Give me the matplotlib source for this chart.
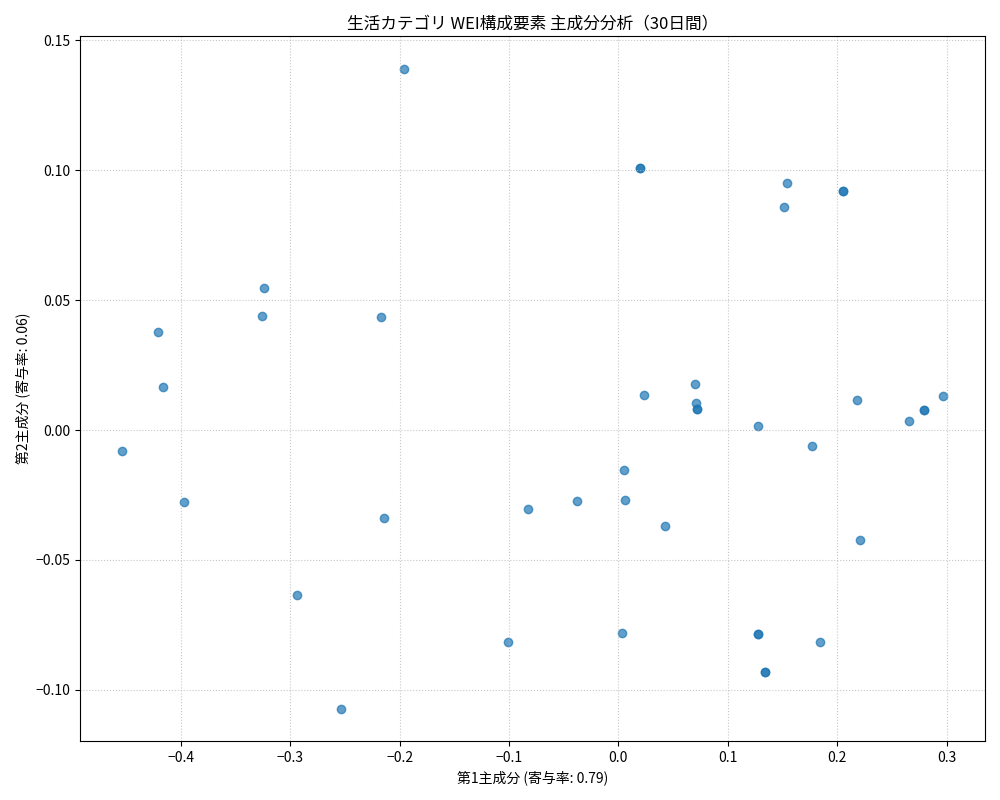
import matplotlib
matplotlib.use("Agg")
import matplotlib.pyplot as plt

plt.rcParams['font.family'] = ['Noto Sans CJK JP', 'DejaVu Sans']
plt.rcParams['axes.unicode_minus'] = True

# principal component scores (duplicated days drawn twice)
pc1 = [-0.196, 0.020, 0.020, 0.154, 0.205, 0.205, 0.151, -0.324, -0.326, -0.217,
       -0.421, -0.416, 0.070, 0.023, 0.071, 0.072, 0.072, 0.218, 0.297, 0.279,
       0.279, 0.266, 0.128, 0.177, -0.454, 0.005, 0.006, -0.038, -0.397, -0.083,
       -0.214, 0.043, 0.221, -0.294, 0.003, 0.128, 0.128, -0.101, 0.184, 0.134,
       0.134, -0.254]
pc2 = [0.139, 0.101, 0.101, 0.095, 0.092, 0.092, 0.086, 0.0546, 0.0438, 0.0435,
       0.0377, 0.0165, 0.0177, 0.0135, 0.0104, 0.0081, 0.0081, 0.0115, 0.0131, 0.0077,
       0.0077, 0.0035, 0.0015, -0.0062, -0.0081, -0.0154, -0.0269, -0.0273, -0.0277, -0.0304,
       -0.0338, -0.0369, -0.0423, -0.0635, -0.0781, -0.0785, -0.0785, -0.0815, -0.0815, -0.0931,
       -0.0931, -0.1073]

fig, ax = plt.subplots(figsize=(10, 8), dpi=100)
ax.scatter(pc1, pc2, alpha=0.7, color='tab:blue')
ax.set_xlim(-0.492, 0.335)
ax.set_ylim(-0.1196, 0.1515)
ax.grid(True, linestyle=':', alpha=0.7)
ax.set_title('生活カテゴリ WEI構成要素 主成分分析（30日間）')
ax.set_xlabel('第1主成分 (寄与率: 0.79)')
ax.set_ylabel('第2主成分 (寄与率: 0.06)')
plt.tight_layout()
plt.savefig('out.png')
